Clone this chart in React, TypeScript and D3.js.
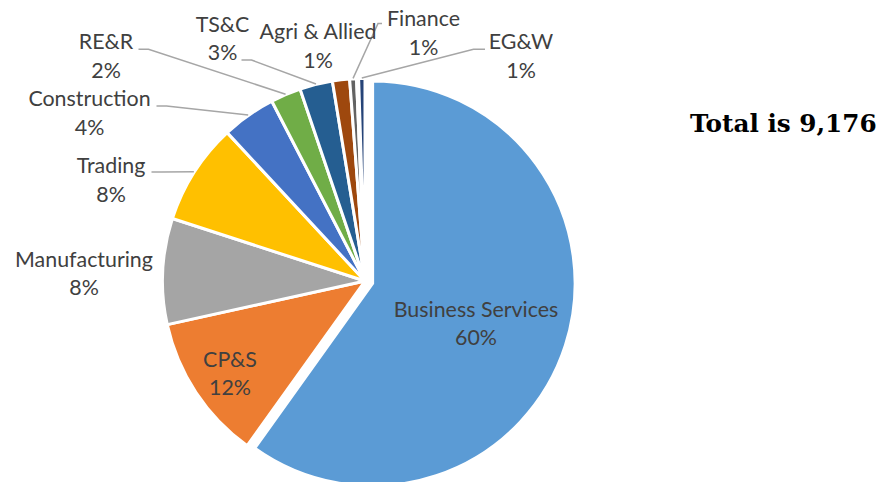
import React from "react";
import * as d3 from "d3";

// ---------- data ----------
const categories = [
  "Business Services",
  "CP&S",
  "Manufacturing",
  "Trading",
  "Construction",
  "RE&R",
  "TS&C",
  "Agri & Allied",
  "Finance",
  "Others",
  "EG&W",
];
const values = [5495, 1070, 775, 743, 395, 222, 240, 125, 50, 15, 46];
const colors = [
  "#5B9BD5",
  "#ED7D31",
  "#A5A5A5",
  "#FFC000",
  "#4472C4",
  "#70AD47",
  "#255E91",
  "#9E480E",
  "#636363",
  "#997300",
  "#264478",
];
const totalPrefix = "Total is ";

// ---------- layout ----------
const W = 886;
const H = 482;
const CX = 365;
const CY = 281;
const R = 202.5;
const EXPLODE = 8;
const LINE = 28.5;

// label layout: x = text centre, y = first baseline; leader = [startX, startY, elbowX]
const labelLayout: Record<string, { x: number; y: number; leader?: [number, number, number] }> = {
  "Business Services": { x: 476, y: 316.5 },
  "CP&S": { x: 230, y: 366.5 },
  Manufacturing: { x: 84, y: 266.5 },
  Trading: { x: 111, y: 173, leader: [151.5, 172, 161.5] },
  Construction: { x: 89.5, y: 106, leader: [156.5, 106, 166.5] },
  "RE&R": { x: 106, y: 49.3, leader: [138.5, 49.3, 148.5] },
  "TS&C": { x: 222.5, y: 31.5, leader: [241.5, 60, 251.5] },
  "Agri & Allied": { x: 318, y: 39 },
  Finance: { x: 423.5, y: 26, leader: [382, 23.5, 378] },
  "EG&W": { x: 521, y: 49.3, leader: [485, 49.3, 473.5] },
};

const LABEL_FONT = "Lato, 'Open Sans', sans-serif";
const LABEL_SIZE = 21.4;
const TEXT_COLOR = "#404040";

export default function App() {
  const total = d3.sum(values);
  const pie = d3
    .pie<number>()
    .sort(null)
    .value((d) => d);
  const arcs = pie(values);
  const arc = d3.arc<d3.PieArcDatum<number>>().innerRadius(0).outerRadius(R);
  const fmtPct = (v: number) => `${Math.round((v / total) * 100)}%`;

  return (
    <svg width={W} height={H} style={{ position: "absolute", left: 0, top: 0 }}>
      <rect width={W} height={H} fill="#fff" />
      <g transform={`translate(${CX},${CY})`}>
        {arcs.map((a, i) => {
          const mid = (a.startAngle + a.endAngle) / 2;
          const off = i === 0 ? EXPLODE : 0;
          const dx = Math.sin(mid) * off;
          const dy = -Math.cos(mid) * off;
          return (
            <path
              key={categories[i]}
              d={arc(a) || ""}
              transform={`translate(${dx},${dy})`}
              fill={colors[i]}
              stroke="#fff"
              strokeWidth={3}
              strokeLinejoin="round"
            />
          );
        })}
      </g>
      {/* leader lines */}
      {arcs.map((a, i) => {
        const name = categories[i];
        const lay = labelLayout[name];
        const ld = lay && lay.leader;
        if (!ld) return null;
        const mid = (a.startAngle + a.endAngle) / 2;
        const ex = CX + Math.sin(mid) * (R + 0.5);
        const ey = CY - Math.cos(mid) * (R + 0.5);
        const pts: [number, number][] = [
          [ld[0], ld[1]],
          [ld[2], ld[1]],
          [ex, ey],
        ];
        return (
          <path
            key={"l" + name}
            d={d3.line()(pts) || ""}
            fill="none"
            stroke="#A6A6A6"
            strokeWidth={1.5}
          />
        );
      })}
      {/* labels */}
      {categories.map((name, i) => {
        const lay = labelLayout[name];
        const pct = fmtPct(values[i]);
        if (!lay || pct === "0%") return null;
        return (
          <text
            key={"t" + name}
            textAnchor="middle"
            fontFamily={LABEL_FONT}
            fontSize={LABEL_SIZE}
            fill={TEXT_COLOR}
          >
            <tspan x={lay.x} y={lay.y}>{name}</tspan>
            <tspan x={lay.x} y={lay.y + LINE}>{pct}</tspan>
          </text>
        );
      })}
      <text
        x={690}
        y={131.5}
        fontFamily="'DejaVu Serif', serif"
        fontWeight="bold"
        fontSize={24.7}
        fill="#000"
      >
        {totalPrefix + d3.format(",")(total)}
      </text>
    </svg>
  );
}
